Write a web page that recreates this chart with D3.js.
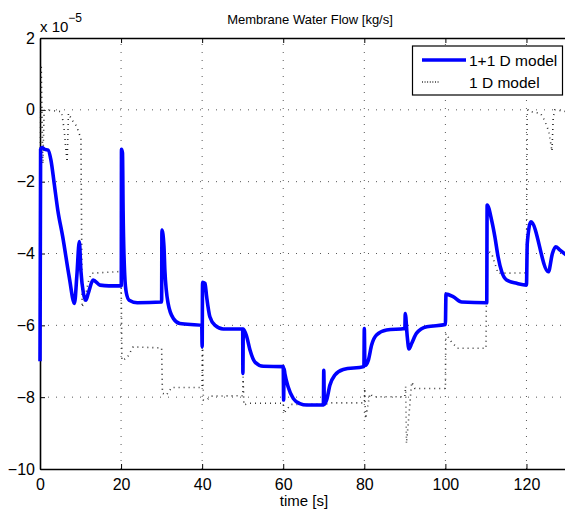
<!DOCTYPE html>
<html>
<head>
<meta charset="utf-8">
<script src="https://cdn.jsdelivr.net/npm/d3@7"></script>
<style>
  body { margin: 0; background: #fff; }
  text { font-family: "Liberation Sans", Arial, sans-serif; }
</style>
</head>
<body>
<script>
// data (flow in units of 1e-5 kg/s)
var title = "Membrane Water Flow [kg/s]";
var xLabel = "time [s]";
var seriesNames = ["1+1 D model", "1 D model"];
var xTicks = [0, 20, 40, 60, 80, 100, 120];
var yTicks = [2, 0, -2, -4, -6, -8, -10];

// 1+1 D model [time, flow]
var flow11D = [
  [0, -7.0], [0.15, -1.1], [0.5, -1.05], [1.2, -1.1], [2.0, -1.12], [2.7, -1.4],
  [3.5, -2.05], [4.4, -2.8], [5.6, -3.53], [7.2, -4.65], [8.5, -5.39],
  [9.1, -4.6], [9.7, -3.67], [10.1, -4.5], [10.7, -5.1], [11.3, -5.3],
  [11.9, -5.11], [13.1, -4.74], [14.8, -4.88], [17, -4.9], [20.05, -4.9],
  [20.1, -1.1], [20.35, -1.2], [20.5, -2.8], [20.9, -4.6], [21.3, -5.1], [22, -5.3],
  [24, -5.37], [30.0, -5.35], [30.08, -3.35], [30.58, -3.81], [30.8, -4.46], [31.6, -5.39],
  [32.9, -5.81], [34.5, -5.95], [39.9, -6.0], [40.0, -6.6], [40.1, -4.8], [40.7, -4.83],
  [41.1, -5.2], [41.9, -5.76], [43.2, -6.0], [45.2, -6.1], [50.0, -6.1], [50.05, -7.34],
  [50.15, -6.1], [51, -6.32], [51.8, -6.69], [53, -7.02], [55.1, -7.14], [60.0, -7.15],
  [60.1, -8.08], [60.2, -7.2], [60.4, -7.34], [61.2, -7.71], [62.5, -8.04], [64.1, -8.18],
  [65.8, -8.22], [69.9, -8.22], [70.0, -7.25], [70.15, -8.2], [70.7, -8.08], [71.5, -7.67],
  [72.7, -7.39], [74.8, -7.23], [79.9, -7.15], [80.0, -6.09], [80.15, -7.12], [81, -6.97],
  [81.8, -6.55], [83, -6.27], [85.5, -6.13], [90.0, -6.09], [90.1, -5.67], [90.6, -6.32],
  [91, -6.66], [91.7, -6.5], [92.9, -6.22], [95.4, -6.04], [100.0, -5.98], [100.15, -5.13],
  [101.9, -5.2], [104, -5.35], [110.2, -5.37], [110.3, -2.65], [111.4, -3.07], [112.2, -3.53],
  [113, -4.09], [113.9, -4.51], [115.1, -4.74], [117.6, -4.83], [120.0, -4.88], [120.2, -3.72],
  [121.1, -3.12], [125.4, -4.51], [126.4, -4.0], [127.2, -3.81], [128.2, -3.9], [130, -4.06]
];

// 1 D model [time, flow]
var flow1D = [
  [0, -1.9], [0.3, 1.25], [0.7, -1.5], [1.0, -0.1], [1.3, 0.0], [5.3, -0.05],
  [5.9, -0.5], [6.3, -1.0], [6.7, -1.45], [7.0, -0.1], [8, -0.3], [9, -0.45],
  [10.1, -0.8], [10.4, -5.5], [11.0, -5.3], [12.0, -4.75], [12.7, -4.55], [20, -4.5],
  [20.2, -6.97], [21.4, -6.92], [23, -6.6], [30, -6.63], [30.2, -7.89], [31.2, -7.94],
  [32.5, -7.73], [40, -7.73], [40.1, -6.0], [40.3, -8.08], [41.1, -8.08], [42.3, -7.97],
  [50, -7.96], [50.1, -7.43], [50.3, -8.22], [51.5, -8.17], [60, -8.17], [60.2, -8.45],
  [61, -8.32], [62, -8.2], [70, -8.2], [72, -8.16], [80, -8.16], [80.1, -7.76],
  [80.3, -8.6], [81.4, -7.9], [82.2, -7.99], [90, -7.99], [90.2, -7.7], [90.4, -9.29],
  [91.7, -7.58], [92.5, -7.76], [100, -7.76], [100.1, -6.23], [101.5, -6.46], [103, -6.64],
  [110, -6.64], [110.2, -3.9], [111.4, -4.0], [113, -4.55], [120, -4.54], [120.2, 0.0],
  [121, -0.05], [123.5, -0.1], [124.5, -0.3], [125.5, -0.6], [126.3, -1.15], [126.6, -0.2],
  [127, 0.0], [130, -0.05]
];

// sizes
var width = 565;
var height = 514;
var plotLeft = 40, plotTop = 38, plotRight = 567, plotBottom = 469;

var svg = d3.select("body").append("svg")
    .attr("width", width)
    .attr("height", height);

var x = d3.scaleLinear().domain([0, 130]).range([plotLeft, plotRight]);
var y = d3.scaleLinear().domain([-10, 2]).range([plotBottom, plotTop]);

// grid
var grid = svg.append("g")
    .attr("stroke", "#444")
    .attr("stroke-width", 0.9)
    .attr("stroke-dasharray", "1,7");

grid.selectAll(".vg")
  .data(xTicks.filter(function(d) { return d > 0; }))
  .enter().append("line")
    .attr("x1", function(d) { return x(d); })
    .attr("x2", function(d) { return x(d); })
    .attr("y1", plotBottom)
    .attr("y2", plotTop);

grid.selectAll(".hg")
  .data(yTicks.filter(function(d) { return d > -10 && d < 2; }))
  .enter().append("line")
    .attr("x1", plotLeft)
    .attr("x2", plotRight)
    .attr("y1", function(d) { return y(d); })
    .attr("y2", function(d) { return y(d); });

// axes, ticks inside like matlab
var xAxis = svg.append("g")
    .attr("transform", "translate(0," + plotBottom + ")")
    .call(d3.axisBottom(x).tickValues(xTicks).tickSizeInner(-5).tickSizeOuter(0).tickPadding(10));

var xAxisTop = svg.append("g")
    .attr("transform", "translate(0," + plotTop + ")")
    .call(d3.axisTop(x).tickValues(xTicks).tickSizeInner(-5).tickSizeOuter(0).tickFormat(""));

var yAxis = svg.append("g")
    .attr("transform", "translate(" + plotLeft + ",0)")
    .call(d3.axisLeft(y).tickValues(yTicks).tickSizeInner(-5).tickSizeOuter(0).tickPadding(10)
      .tickFormat(function(d) { return d < 0 ? "\u2212" + Math.abs(d) : d; }));

[xAxis, xAxisTop, yAxis].forEach(function(a) {
  a.select(".domain").attr("stroke", "#000").attr("stroke-width", 1.6);
  a.selectAll(".tick line").attr("stroke", "#000").attr("stroke-width", 1);
  a.selectAll("text")
    .attr("fill", "#000")
    .style("font-size", "16px")
    .style("font-family", "'Liberation Sans', Arial, sans-serif");
});
yAxis.selectAll("text").attr("dx", "5px");

// lines
var line = d3.line()
    .x(function(d) { return x(d[0]); })
    .y(function(d) { return y(d[1]); });

svg.append("path")
    .datum(flow1D)
    .attr("d", line)
    .attr("fill", "none")
    .attr("stroke", "#222")
    .attr("stroke-width", 1.6)
    .attr("stroke-dasharray", "0.9,4.1");

svg.append("path")
    .datum(flow11D)
    .attr("d", line.curve(d3.curveMonotoneX))
    .attr("fill", "none")
    .attr("stroke", "#0000ff")
    .attr("stroke-width", 3.6)
    .attr("stroke-linejoin", "round");

// exponent label
var expo = svg.append("text")
    .attr("x", plotLeft)
    .attr("y", 32)
    .style("font-size", "15px")
    .text("x 10");
expo.append("tspan")
    .attr("dy", "-10")
    .style("font-size", "12px")
    .text("\u22125");

// title and x label
svg.append("text")
    .attr("x", 310)
    .attr("y", 24)
    .attr("text-anchor", "middle")
    .style("font-size", "13px")
    .text(title);

svg.append("text")
    .attr("x", 304)
    .attr("y", 506)
    .attr("text-anchor", "middle")
    .style("font-size", "15px")
    .text(xLabel);

// legend
var legend = svg.append("g");
legend.append("rect")
    .attr("x", 412.5)
    .attr("y", 46)
    .attr("width", 150)
    .attr("height", 49)
    .attr("fill", "#fff")
    .attr("stroke", "#000")
    .attr("stroke-width", 1.2);

legend.append("line")
    .attr("x1", 422).attr("x2", 466)
    .attr("y1", 60).attr("y2", 60)
    .attr("stroke", "#0000ff")
    .attr("stroke-width", 3.6);

legend.append("line")
    .attr("x1", 422).attr("x2", 440)
    .attr("y1", 82).attr("y2", 82)
    .attr("stroke", "#222")
    .attr("stroke-width", 1.6)
    .attr("stroke-dasharray", "0.9,1.7");

legend.selectAll(".lt")
  .data(seriesNames)
  .enter().append("text")
    .attr("x", 469)
    .attr("y", function(d, i) { return 66 + i * 22; })
    .style("font-size", "15.5px")
    .text(function(d) { return d; });
</script>
</body>
</html>
